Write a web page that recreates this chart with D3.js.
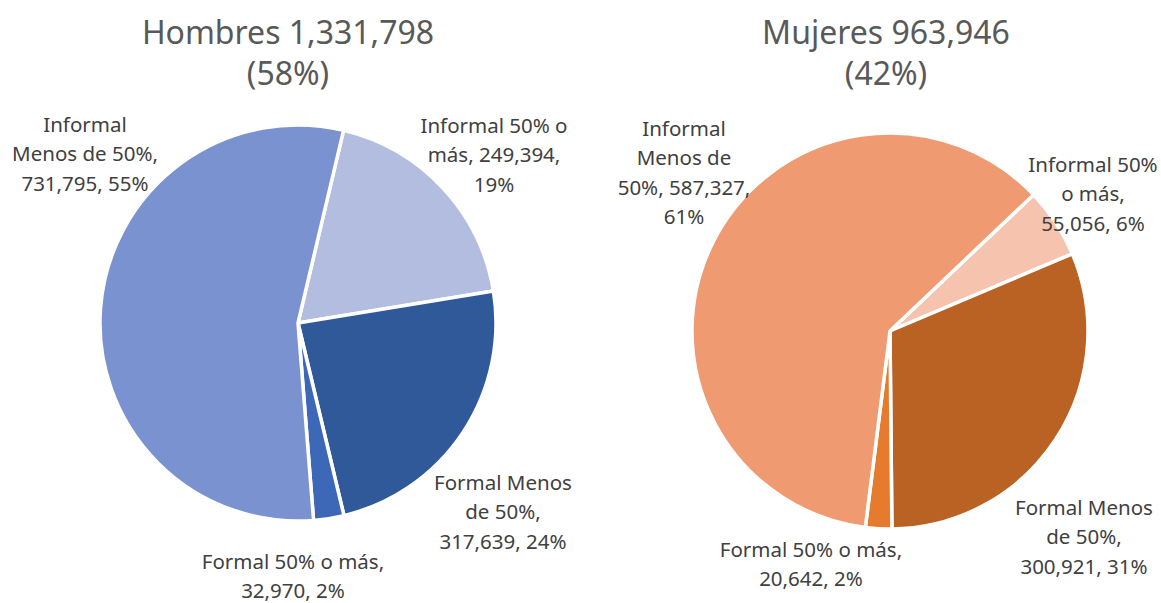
<!DOCTYPE html>
<html>
<head>
<meta charset="utf-8">
<script src="https://cdn.jsdelivr.net/npm/d3@7"></script>
<style>
  body { margin: 0; background: #fff; }
  text { font-family: "Noto Sans", "Open Sans", sans-serif; }
</style>
</head>
<body>
<div id="chart"></div>
<script>
// data
var categories = ["Informal 50% o más", "Formal Menos de 50%", "Formal 50% o más", "Informal Menos de 50%"];
var hombresValues = [249394, 317639, 32970, 731795];
var mujeresValues = [55056, 300921, 20642, 587327];
var hombresPct = ["19%", "24%", "2%", "55%"];
var mujeresPct = ["6%", "31%", "2%", "61%"];
var titles = [["Hombres 1,331,798", "(58%)"], ["Mujeres 963,946", "(42%)"]];

// label text split in lines, as in the original
var hombresLabels = [
  ["Informal 50% o", "más, 249,394,", "19%"],
  ["Formal Menos", "de 50%,", "317,639, 24%"],
  ["Formal 50% o más,", "32,970, 2%"],
  ["Informal", "Menos de 50%,", "731,795, 55%"]
];
var mujeresLabels = [
  ["Informal 50%", "o más,", "55,056, 6%"],
  ["Formal Menos", "de 50%,", "300,921, 31%"],
  ["Formal 50% o más,", "20,642, 2%"],
  ["Informal", "Menos de", "50%, 587,327,", "61%"]
];

var svgWidth = 1161;
var svgHeight = 603;

var svg = d3.select("#chart")
  .append("svg")
  .attr("width", svgWidth)
  .attr("height", svgHeight);

var charts = [
  {
    values: hombresValues, labels: hombresLabels, title: titles[0],
    cx: 298, cy: 323, r: 198, start: 13.3,
    colors: ["#b2bddf", "#30599a", "#3d67b7", "#7a92cf"],
    titleX: 288,
    labelPos: [[494, 133], [503, 490], [293, 569], [85, 132]]
  },
  {
    values: mujeresValues, labels: mujeresLabels, title: titles[1],
    cx: 890, cy: 331, r: 198, start: 46.5,
    colors: ["#f5c3ae", "#ba6124", "#e67b2d", "#ef9a70"],
    titleX: 886,
    labelPos: [[1093, 172], [1084, 515], [811, 557], [684, 136]]
  }
];

var lineHeight = 29.3;

charts.forEach(function(c) {
  var g = svg.append("g");

  // titles
  g.append("text")
    .attr("x", c.titleX)
    .attr("text-anchor", "middle")
    .attr("fill", "#595959")
    .style("font-size", "32px")
    .selectAll("tspan")
    .data(c.title)
    .enter()
    .append("tspan")
      .attr("x", c.titleX)
      .attr("y", (d, i) => 44 + i * 41)
      .text(d => d);

  var a0 = c.start * Math.PI / 180;
  var pie = d3.pie()
    .sort(null)
    .startAngle(a0)
    .endAngle(a0 + 2 * Math.PI);

  var arc = d3.arc()
    .innerRadius(0)
    .outerRadius(c.r);

  g.append("g")
    .attr("transform", `translate(${c.cx}, ${c.cy})`)
    .selectAll("path")
    .data(pie(c.values))
    .enter()
    .append("path")
      .attr("d", arc)
      .attr("fill", (d, i) => c.colors[i])
      .attr("stroke", "#fff")
      .attr("stroke-width", 3.5)
      .attr("stroke-linejoin", "round");

  // data labels
  c.labels.forEach(function(lines, i) {
    g.append("text")
      .attr("text-anchor", "middle")
      .attr("fill", "#404040")
      .style("font-size", "20.5px")
      .selectAll("tspan")
      .data(lines)
      .enter()
      .append("tspan")
        .attr("x", c.labelPos[i][0])
        .attr("y", (d, j) => c.labelPos[i][1] + j * lineHeight)
        .text(d => d);
  });
});
</script>
</body>
</html>
